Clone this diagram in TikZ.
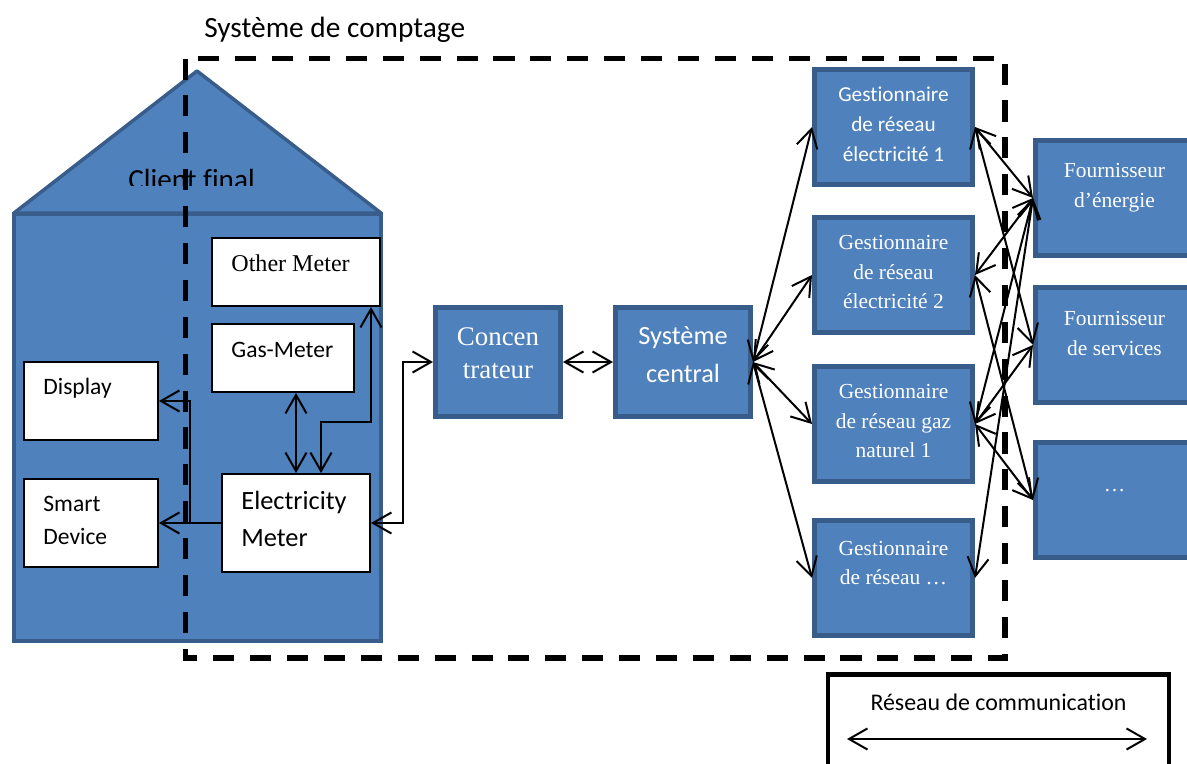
\documentclass[tikz,border=0pt]{standalone}
\usepackage{fontspec}
\setmainfont{Liberation Serif}
\setsansfont{Carlito}[Ligatures=NoCommon, RawFeature={-liga;-clig;-dlig}]
\usepackage{tikz}
\usetikzlibrary{positioning, arrows.meta, calc}
\definecolor{boxblue}{RGB}{79,129,189}
\definecolor{boxedge}{RGB}{56,93,138}

\begin{document}
\begin{tikzpicture}[x=0.02cm, y=-0.02cm,
  >={Straight Barb[length=10.5pt, width=12pt]},
  bluebox/.style={draw=boxedge, fill=boxblue, line width=0.1cm, inner sep=0pt},
  gbox/.style={bluebox, minimum width=3.16cm, minimum height=2.3cm},
  meter/.style={draw=black, fill=white, line width=0.03cm, inner sep=0pt},
  wserif/.style={text=white, align=center, inner sep=0pt,
                 font=\fontsize{12.2}{16.8}\selectfont},
  wsans/.style={text=white, align=center, inner sep=0pt,
                font=\sffamily\fontsize{12.1}{17}\selectfont},
  mtext/.style={align=left, inner sep=0pt,
                font=\sffamily\fontsize{13.4}{18.8}\selectfont},
  link/.style={<->, line width=0.04cm},
  feed/.style={->, line width=0.04cm}
]
  \useasboundingbox (0,0) rectangle (1187,764);

  %% House of the final customer
  \filldraw[draw=boxedge, fill=boxblue, line width=0.07cm, line join=round]
    (14,213) -- (197,71) -- (381,213) -- cycle;
  \filldraw[draw=boxedge, fill=boxblue, line width=0.07cm]
    (14,214) rectangle (381,641);
  \begin{scope}
    \clip (100,150) rectangle (300,185);
    \node[anchor=base west, inner sep=0pt,
          font=\sffamily\fontsize{16.6}{20}\selectfont] (client) at (128,189) {Client final};
  \end{scope}

  %% Meters and devices inside the house
  \node[meter, minimum width=3.37cm, minimum height=1.37cm] (om) at (296,272) {};
  \node[meter, minimum width=2.85cm, minimum height=1.37cm] (gm) at (283,358) {};
  \node[meter, minimum width=2.69cm, minimum height=1.57cm] (dp) at (91,401) {};
  \node[meter, minimum width=2.69cm, minimum height=1.77cm] (sd) at (91,523) {};
  \node[meter, minimum width=2.97cm, minimum height=1.97cm] (em) at (296,523) {};

  \node[mtext, font=\fontsize{13.7}{16}\selectfont,
        below right=9.7pt and 11.4pt of om.north west] (omt) {Other Meter};
  \node[mtext, below right=10.8pt and 11.4pt of gm.north west] (gmt) {Gas-Meter};
  \node[mtext, below right=9.4pt and 11.4pt of dp.north west] (dpt) {Display};
  \node[mtext, below right=10pt and 11.4pt of sd.north west] (sdt) {Smart\\Device};
  \node[mtext, font=\sffamily\fontsize{15}{21}\selectfont,
        below right=10.2pt and 11.4pt of em.north west] (emt) {Electricity\\Meter};

  %% Concentrator, central system, grid operators, suppliers
  \node[bluebox, minimum width=2.5cm, minimum height=2.18cm] (cc) at (498,362) {};
  \node[bluebox, minimum width=2.7cm, minimum height=2.18cm] (sc) at (683,362) {};
  \node[gbox] (g1) at (893.5,127) {};
  \node[gbox] (g2) at (893.5,275) {};
  \node[gbox] (g3) at (893.5,424) {};
  \node[gbox] (g4) at (893.5,578) {};
  \node[gbox] (f1) at (1114.5,198) {};
  \node[gbox] (f2) at (1114.5,345) {};
  \node[gbox] (f3) at (1114.5,500) {};

  \node[wserif, font=\fontsize{15.3}{18.8}\selectfont, below=12.5pt of cc.north] (cct) {Concen\\trateur};
  \node[wsans, font=\sffamily\fontsize{15}{21.6}\selectfont, below=12pt of sc.north] (sct) {Système\\central};
  \node[wsans, below=11pt of g1.north] (g1t) {Gestionnaire\\de réseau\\électricité 1};
  \node[wserif, below=11.4pt of g2.north] (g2t) {Gestionnaire\\de réseau\\électricité 2};
  \node[wserif, below=11.4pt of g3.north] (g3t) {Gestionnaire\\de réseau gaz\\naturel 1};
  \node[wserif, below=13pt of g4.north] (g4t) {Gestionnaire\\de réseau …};
  \node[wserif, below=14.2pt of f1.north] (f1t) {Fournisseur\\d’énergie};
  \node[wserif, below=14.8pt of f2.north] (f2t) {Fournisseur\\de services};
  \node[wserif, below=27.9pt of f3.north] (f3t) {…};

  %% Links inside the house
  \draw[link] (gm.south -| em.north) -- (em.north);
  \draw[link] ($(om.south east)+(-10,0)$) |- ($(em.north)+(25,-51)$) -- ($(em.north)+(25,0)$);
  \draw[feed] (em.west) -- (sd.east);
  \draw[feed] (em.west) -- ++(-31,0) |- (dp.east);

  %% Meter -> concentrator -> central system
  \draw[link] (em.east) -- ++(32,0) |- (cc.west);
  \draw[link] (cc.east) -- (sc.west);

  %% Central system <-> grid operators
  \draw[link] (sc.east) -- (g1.west);
  \draw[link] (sc.east) -- (g2.west);
  \draw[link] (sc.east) -- (g3.west);
  \draw[link] (sc.east) -- (g4.west);

  %% Grid operators <-> suppliers
  \draw[link] (g1.east) -- (f1.west);
  \draw[link] (g1.east) -- (f2.west);
  \draw[link] (g2.east) -- (f1.west);
  \draw[link] (g2.east) -- (f3.west);
  \draw[link] (g3.east) -- (f1.west);
  \draw[link] (g3.east) -- (f2.west);
  \draw[link] (g3.east) -- (f3.west);
  \draw[link] (g4.east) -- (f1.west);

  %% Metering system frame
  \draw[line width=0.11cm, dash pattern=on 12pt off 9pt] (185.5,58.5) rectangle (1005,658);
  \node[anchor=base west, inner sep=0pt,
        font=\sffamily\fontsize{16.7}{20}\selectfont] (frame) at (204,37.5) {Système de comptage};

  %% Legend
  \node[draw=black, line width=0.09cm, minimum width=6.82cm, minimum height=2.35cm] (legend) at (998.5,733) {};
  \node[inner sep=0pt, font=\sffamily\fontsize{13.6}{16}\selectfont,
        below=12.5pt of legend.north] (legendt) {Réseau de communication};
  \coordinate (la) at (847,739);
  \coordinate (lb) at (1147,739);
  \draw[link] (la) -- (lb);
\end{tikzpicture}
\end{document}
